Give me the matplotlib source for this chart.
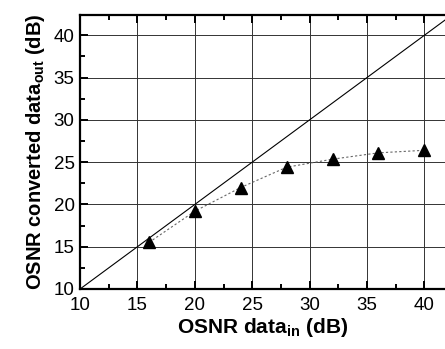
import matplotlib
matplotlib.use("Agg")
import matplotlib.pyplot as plt
from matplotlib.ticker import MultipleLocator

plt.rcParams['font.family'] = ['Liberation Sans', 'DejaVu Sans']
plt.rcParams['mathtext.fontset'] = 'custom'
plt.rcParams['mathtext.rm'] = 'Liberation Sans:bold'
plt.rcParams['mathtext.bf'] = 'Liberation Sans:bold'
plt.rcParams['mathtext.it'] = 'Liberation Sans:bold'

osnr_in = [16, 20, 24, 28, 32, 36, 40]
osnr_out = [15.5, 19.2, 22.0, 24.4, 25.35, 26.1, 26.4]
ref_line = [10, 45]

fig = plt.figure(figsize=(4.45, 3.49), dpi=100)
ax = fig.add_axes([0.180, 0.172, 0.82, 0.785])

ax.plot(ref_line, ref_line, color='black', lw=0.8, zorder=3)
ax.plot(osnr_in, osnr_out, color='#666666', lw=0.8, ls=(0, (2, 2)), zorder=3)
ax.plot(osnr_in, osnr_out, ls='none', marker='^', ms=9, color='black', zorder=4)

ax.set_xlim(10, 41.8)
ax.set_ylim(10, 42.4)
ax.xaxis.set_major_locator(MultipleLocator(5))
ax.xaxis.set_minor_locator(MultipleLocator(2.5))
ax.yaxis.set_major_locator(MultipleLocator(5))
ax.yaxis.set_minor_locator(MultipleLocator(2.5))

ax.grid(True, which='major', color='#333333', lw=0.7)
ax.set_axisbelow(True)
for s in ['left', 'bottom', 'top']:
    ax.spines[s].set_linewidth(1.6)
ax.spines['right'].set_visible(False)

ax.tick_params(which='both', direction='in', top=True, right=False, width=1.4)
ax.tick_params(which='major', length=6, labelsize=13.5, pad=4)
ax.tick_params(axis='x', which='major', pad=6)
ax.tick_params(which='minor', length=3.5)

ax.set_xlabel(r'OSNR data$_{\mathbf{in}}$ (dB)', fontsize=15, fontweight='bold', labelpad=1)
ax.set_ylabel(r'OSNR converted data$_{\mathbf{out}}$ (dB)', fontsize=14.5, fontweight='bold', labelpad=5)

fig.savefig('out.png', dpi=100)
